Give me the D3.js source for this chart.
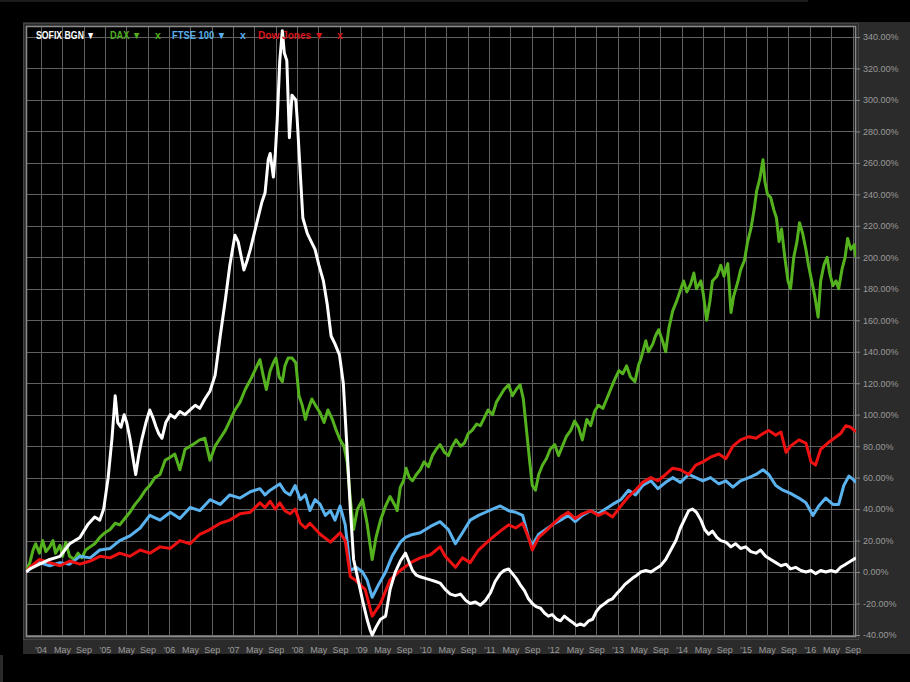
<!DOCTYPE html>
<html><head><meta charset="utf-8">
<script src="https://cdn.jsdelivr.net/npm/d3@7"></script>
<style>html,body{margin:0;padding:0;background:#000;}svg{display:block;}</style>
</head><body><svg id="c" width="910" height="682"></svg>
<script>
// ---- data (time in decimal years, value in % change) ----
const sofixT = [2003.77,2003.83,2003.98,2004.14,2004.30,2004.45,2004.61,2004.73,2004.84,2004.92,2004.98,2005.05,2005.11,2005.16,2005.20,2005.25,2005.30,2005.34,2005.39,2005.44,2005.48,2005.53,2005.58,2005.64,2005.70,2005.75,2005.80,2005.84,2005.89,2005.95,2006.02,2006.09,2006.17,2006.25,2006.33,2006.41,2006.48,2006.56,2006.64,2006.72,2006.80,2006.88,2006.95,2007.03,2007.08,2007.13,2007.17,2007.22,2007.27,2007.33,2007.39,2007.45,2007.50,2007.55,2007.58,2007.63,2007.66,2007.69,2007.73,2007.77,2007.80,2007.84,2007.88,2007.92,2007.98,2008.00,2008.09,2008.16,2008.22,2008.28,2008.34,2008.41,2008.47,2008.53,2008.59,2008.66,2008.72,2008.77,2008.83,2008.88,2008.95,2009.02,2009.09,2009.14,2009.17,2009.23,2009.30,2009.38,2009.45,2009.53,2009.61,2009.69,2009.73,2009.80,2009.86,2009.92,2010.00,2010.08,2010.16,2010.23,2010.31,2010.39,2010.47,2010.55,2010.63,2010.70,2010.78,2010.86,2010.94,2011.02,2011.09,2011.17,2011.23,2011.30,2011.36,2011.42,2011.48,2011.55,2011.61,2011.67,2011.73,2011.80,2011.86,2011.92,2011.98,2012.05,2012.11,2012.17,2012.23,2012.30,2012.36,2012.42,2012.48,2012.55,2012.61,2012.67,2012.73,2012.80,2012.86,2012.92,2012.98,2013.05,2013.11,2013.17,2013.23,2013.30,2013.36,2013.44,2013.52,2013.59,2013.67,2013.75,2013.83,2013.91,2013.98,2014.05,2014.11,2014.17,2014.23,2014.30,2014.36,2014.42,2014.48,2014.55,2014.61,2014.69,2014.77,2014.84,2014.92,2015.00,2015.08,2015.16,2015.23,2015.31,2015.39,2015.47,2015.55,2015.63,2015.70,2015.78,2015.86,2015.94,2016.02,2016.09,2016.17,2016.25,2016.33,2016.41,2016.48,2016.56,2016.64,2016.72];
const sofixV = [0,2,5,8,10,18,22,30,35,33,40,60,85,112,95,92,100,95,85,72,62,75,85,95,103,98,92,88,85,95,100,98,102,100,103,106,104,110,115,125,150,173,195,214,210,200,192,198,205,215,225,235,241,262,266,251,266,287,325,344,330,325,276,303,300,289,225,215,210,205,195,185,170,150,145,138,120,84,40,8,-5,-18,-30,-37,-40,-35,-30,-28,-11,0,7,12,8,1,-2,-3,-4,-5,-6,-7,-11,-14,-15,-14,-18,-20,-19,-21,-18,-13,-6,-1,1,2,-1,-4,-8,-12,-17,-20,-22,-23,-26,-28,-27,-30,-31,-28,-30,-32,-34,-33,-34,-31,-30,-25,-22,-20,-18,-17,-14,-11,-8,-6,-4,-2,0,1,0,2,4,8,14,20,28,34,39,40,38,33,27,24,26,22,20,19,16,18,15,16,13,12,14,10,8,6,4,5,2,3,1,0,1,-1,1,0,1,0,3,5,7,9];

const daxT = [2003.77,2003.83,2003.88,2003.92,2003.98,2004.03,2004.08,2004.14,2004.19,2004.23,2004.30,2004.34,2004.39,2004.45,2004.52,2004.58,2004.64,2004.70,2004.77,2004.84,2004.92,2005.00,2005.08,2005.16,2005.23,2005.31,2005.39,2005.47,2005.55,2005.63,2005.70,2005.78,2005.86,2005.94,2006.02,2006.09,2006.17,2006.25,2006.33,2006.41,2006.48,2006.56,2006.64,2006.72,2006.80,2006.88,2006.95,2007.03,2007.11,2007.19,2007.27,2007.34,2007.42,2007.47,2007.52,2007.58,2007.63,2007.67,2007.72,2007.77,2007.81,2007.86,2007.92,2007.98,2008.03,2008.08,2008.13,2008.17,2008.23,2008.30,2008.36,2008.42,2008.48,2008.55,2008.61,2008.67,2008.73,2008.78,2008.83,2008.88,2008.94,2009.02,2009.09,2009.17,2009.23,2009.30,2009.38,2009.45,2009.53,2009.56,2009.61,2009.66,2009.70,2009.75,2009.80,2009.86,2009.92,2009.98,2010.05,2010.11,2010.17,2010.23,2010.30,2010.36,2010.42,2010.48,2010.55,2010.61,2010.67,2010.73,2010.80,2010.86,2010.92,2010.98,2011.05,2011.11,2011.17,2011.23,2011.30,2011.36,2011.42,2011.48,2011.53,2011.58,2011.63,2011.67,2011.72,2011.77,2011.83,2011.89,2011.95,2012.02,2012.08,2012.14,2012.20,2012.27,2012.33,2012.39,2012.45,2012.52,2012.58,2012.64,2012.70,2012.77,2012.83,2012.89,2012.95,2013.02,2013.08,2013.14,2013.20,2013.27,2013.33,2013.36,2013.44,2013.48,2013.55,2013.59,2013.64,2013.70,2013.75,2013.80,2013.86,2013.92,2013.98,2014.03,2014.08,2014.14,2014.19,2014.23,2014.30,2014.34,2014.39,2014.44,2014.48,2014.55,2014.61,2014.66,2014.72,2014.77,2014.81,2014.88,2014.92,2014.98,2015.03,2015.08,2015.13,2015.17,2015.22,2015.27,2015.30,2015.34,2015.39,2015.44,2015.48,2015.52,2015.56,2015.61,2015.66,2015.70,2015.75,2015.80,2015.84,2015.89,2015.94,2015.98,2016.03,2016.08,2016.13,2016.17,2016.22,2016.27,2016.31,2016.36,2016.41,2016.45,2016.50,2016.55,2016.59,2016.64,2016.69,2016.72];
const daxV = [0,6,14,18,12,20,13,16,20,12,17,10,19,10,8,12,9,14,16,18,22,25,27,31,30,34,38,43,47,52,55,60,62,71,73,75,65,78,80,82,84,85,71,80,85,90,96,103,108,116,122,128,135,125,116,128,133,136,124,121,131,136,136,133,112,106,97,103,110,105,101,95,103,97,90,84,80,70,46,27,40,46,31,8,22,33,42,48,42,39,54,58,66,60,58,62,65,70,67,74,78,81,76,74,80,84,80,82,88,90,94,93,98,103,100,108,112,116,119,112,116,119,110,90,70,55,52,62,68,72,78,81,74,80,86,90,96,92,84,97,93,102,106,104,110,116,122,128,126,131,124,121,132,135,147,140,145,150,154,147,140,155,166,172,179,185,178,183,190,180,185,176,160,172,185,188,195,188,196,165,175,185,192,198,210,218,230,242,250,262,248,240,238,230,225,210,218,200,185,180,200,210,222,215,205,195,185,175,162,185,195,200,190,182,185,180,192,200,212,205,208,200];

const ftseT = [2003.77,2003.83,2003.98,2004.14,2004.30,2004.45,2004.61,2004.77,2004.92,2005.08,2005.23,2005.39,2005.55,2005.70,2005.86,2006.02,2006.17,2006.33,2006.48,2006.64,2006.80,2006.95,2007.11,2007.27,2007.42,2007.50,2007.58,2007.73,2007.81,2007.89,2007.97,2008.05,2008.13,2008.20,2008.28,2008.36,2008.44,2008.52,2008.59,2008.67,2008.75,2008.83,2008.92,2009.02,2009.09,2009.17,2009.27,2009.38,2009.48,2009.61,2009.69,2009.77,2009.92,2010.08,2010.23,2010.36,2010.47,2010.58,2010.70,2010.83,2010.94,2011.05,2011.17,2011.30,2011.41,2011.52,2011.61,2011.67,2011.77,2011.88,2011.98,2012.11,2012.23,2012.34,2012.45,2012.58,2012.70,2012.81,2012.92,2013.05,2013.17,2013.28,2013.39,2013.52,2013.63,2013.75,2013.86,2013.98,2014.11,2014.22,2014.33,2014.45,2014.58,2014.69,2014.80,2014.92,2015.05,2015.16,2015.27,2015.36,2015.47,2015.58,2015.70,2015.83,2015.94,2016.05,2016.14,2016.25,2016.36,2016.45,2016.53,2016.61,2016.67,2016.72];
const ftseV = [0,2,6,4,6,5,10,9,14,15,20,23,28,36,33,38,34,41,39,46,43,49,47,51,53,49,52,56,51,49,55,46,49,39,46,43,36,39,33,42,30,1,3,0,-5,-16,-8,0,10,19,22,23.5,25,29,32,27,18,25,33,36,38,40,42,39,38,36,22,17,24,27,30,33,36,32,36,39,37,40,43,46,52,49,55,58,53,57,60,57,62,60,58,60,56,58,54,58,60,62,65,62,55,52,50,47,44,36,42,47,43,43,55,61,59,57];

const dowT = [2003.77,2003.83,2003.98,2004.14,2004.30,2004.45,2004.61,2004.77,2004.92,2005.08,2005.23,2005.39,2005.55,2005.70,2005.86,2006.02,2006.17,2006.33,2006.48,2006.64,2006.80,2006.95,2007.11,2007.27,2007.42,2007.50,2007.58,2007.66,2007.73,2007.81,2007.89,2007.97,2008.05,2008.13,2008.20,2008.36,2008.52,2008.67,2008.75,2008.83,2008.91,2008.98,2009.06,2009.17,2009.30,2009.38,2009.45,2009.61,2009.77,2009.92,2010.08,2010.23,2010.31,2010.47,2010.58,2010.70,2010.83,2010.94,2011.05,2011.17,2011.30,2011.41,2011.52,2011.61,2011.67,2011.77,2011.88,2011.98,2012.11,2012.23,2012.34,2012.45,2012.58,2012.70,2012.81,2012.92,2013.05,2013.17,2013.28,2013.39,2013.52,2013.63,2013.75,2013.86,2013.98,2014.11,2014.22,2014.33,2014.45,2014.58,2014.69,2014.80,2014.92,2015.05,2015.16,2015.27,2015.36,2015.47,2015.55,2015.63,2015.70,2015.83,2015.94,2016.02,2016.09,2016.17,2016.28,2016.38,2016.48,2016.56,2016.64,2016.72];
const dowV = [0,3,8,6,4,7,5,7,10,9,12,10,14,12,16,15,20,18,24,27,31,33,37,38,44,41,45,40,44,39,37,40,31,28,31,24,19,25,20,-3,-5,-8,-11,-28,-20,-12,-5,1,6,9,11,16,10,3,9,6,14,18,22,26,30,28,31,22,14,22,26,30,35,38,34,37,39,36,38,35,42,48,52,57,60,58,62,66,65,62,68,70,73,75,72,80,84,86,85,88,90,87,89,76,80,84,82,70,68,78,82,85,88,93,92,89];

const yTicks = [-40,-20,0,20,40,60,80,100,120,140,160,180,200,220,240,260,280,300,320,340];
const seriesNames = ["SOFIX BGN","DAX","FTSE 100","Dow Jones"];
const seriesColors = ["#ffffff","#55b21f","#5ab2ee","#ee1111"];
const legendColors = ["#ffffff","#4fae1c","#56aeea","#d8141a"];

// ---- helpers ----
function toDate(t){const y=Math.floor(t);const a=new Date(y,0,1),b=new Date(y+1,0,1);return new Date(+a+(t-y)*(b-a));}
const svg = d3.select("#c");
const L=26,R=856,T=27,B=637;

// background bits
svg.append("rect").attr("x",0).attr("y",0).attr("width",808).attr("height",2).attr("fill","#1c1c1c");
svg.append("rect").attr("x",0).attr("y",655).attr("width",3).attr("height",27).attr("fill","#2a2a2a");
svg.append("rect").attr("x",23).attr("y",22).attr("width",887).attr("height",632).attr("fill","#2b2b2b");
svg.append("rect").attr("x",23.5).attr("y",23.5).attr("width",835).attr("height",616).attr("fill","none").attr("stroke","#444");
svg.append("rect").attr("x",L).attr("y",T).attr("width",R-L).attr("height",B-T).attr("fill","#000");

const x = d3.scaleTime().domain([toDate(2003.77),toDate(2016.72)]).range([L,R]);
const y = d3.scaleLinear().domain([-40,340]).range([635,37]);

// grid
const xTicks = x.ticks(d3.timeMonth.every(4));
const grid = svg.append("g");
grid.selectAll("line.v").data(xTicks).join("line").attr("class","v")
  .attr("x1",d=>Math.round(x(d))+0.5).attr("x2",d=>Math.round(x(d))+0.5).attr("y1",T).attr("y2",B)
  .attr("stroke","#606060").attr("stroke-width",1);
grid.selectAll("line.h").data(yTicks).join("line").attr("class","h")
  .attr("x1",L).attr("x2",R).attr("y1",d=>Math.round(y(d))+0.5).attr("y2",d=>Math.round(y(d))+0.5)
  .attr("stroke","#606060").attr("stroke-width",1);

// frame
svg.append("rect").attr("x",L+0.5).attr("y",T-0.5).attr("width",R-L-1).attr("height",B-T).attr("fill","none").attr("stroke","#8a8a8a").attr("stroke-width",1.5);

// axes
const yAxis = d3.axisRight(y).tickValues(yTicks).tickSize(4).tickPadding(3).tickFormat(d=>d.toFixed(2)+"%");
const gy = svg.append("g").attr("transform",`translate(${R},0)`).call(yAxis);
gy.select(".domain").remove();
gy.selectAll("line").attr("stroke","#888");
gy.selectAll("text").attr("fill","#9a9a9a").attr("font-family","Liberation Sans, Arial, sans-serif").attr("font-size","9px");

const fmt = d=> d.getMonth()===0 ? "'"+d3.timeFormat("%y")(d) : d3.timeFormat("%b")(d);
const xAxis = d3.axisBottom(x).tickValues(xTicks).tickSize(0).tickPadding(10).tickFormat(fmt);
const gx = svg.append("g").attr("transform",`translate(0,${B})`).call(xAxis);
gx.select(".domain").remove();
gx.selectAll("text").attr("fill","#9a9a9a").attr("font-family","Liberation Sans, Arial, sans-serif").attr("font-size","9px");

// lines
svg.append("clipPath").attr("id","clip").append("rect").attr("x",L).attr("y",T).attr("width",R-L).attr("height",B-T);
const line = d3.line().x(d=>x(d.t)).y(d=>y(d.v)).curve(d3.curveLinear);
const series = [[sofixT,sofixV],[daxT,daxV],[ftseT,ftseV],[dowT,dowV]];
const drawOrder=[1,2,3,0];
const lg = svg.append("g").attr("clip-path","url(#clip)");
drawOrder.forEach(i=>{
  const [ts,vs]=series[i];
  const data = ts.map((t,k)=>({t:toDate(t),v:vs[k]}));
  lg.append("path").datum(data).attr("d",line).attr("fill","none")
    .attr("stroke",seriesColors[i]).attr("stroke-width",3).attr("stroke-linejoin","round");
});

// legend
const leg = svg.append("g").attr("font-family","Liberation Sans Narrow, Arial Narrow, Liberation Sans, sans-serif")
  .attr("font-weight","bold").attr("font-size","10.5px");
const legendItems = [
  {t:seriesNames[0]+" \u25BC",c:legendColors[0],x:36,w:59},
  {t:seriesNames[1]+" \u25BC",c:legendColors[1],x:110,w:31},
  {t:"x",c:legendColors[1],x:155,w:0},
  {t:seriesNames[2]+" \u25BC",c:legendColors[2],x:172,w:54},
  {t:"x",c:legendColors[2],x:240,w:0},
  {t:seriesNames[3]+" \u25BC",c:legendColors[3],x:258,w:66},
  {t:"x",c:legendColors[3],x:337,w:0}
];
leg.selectAll("text").data(legendItems).join("text").attr("x",d=>d.x).attr("y",39).attr("fill",d=>d.c)
  .each(function(d){ if(d.w){ d3.select(this).attr("textLength",d.w).attr("lengthAdjust","spacingAndGlyphs"); } })
  .text(d=>d.t);
</script></body></html>
